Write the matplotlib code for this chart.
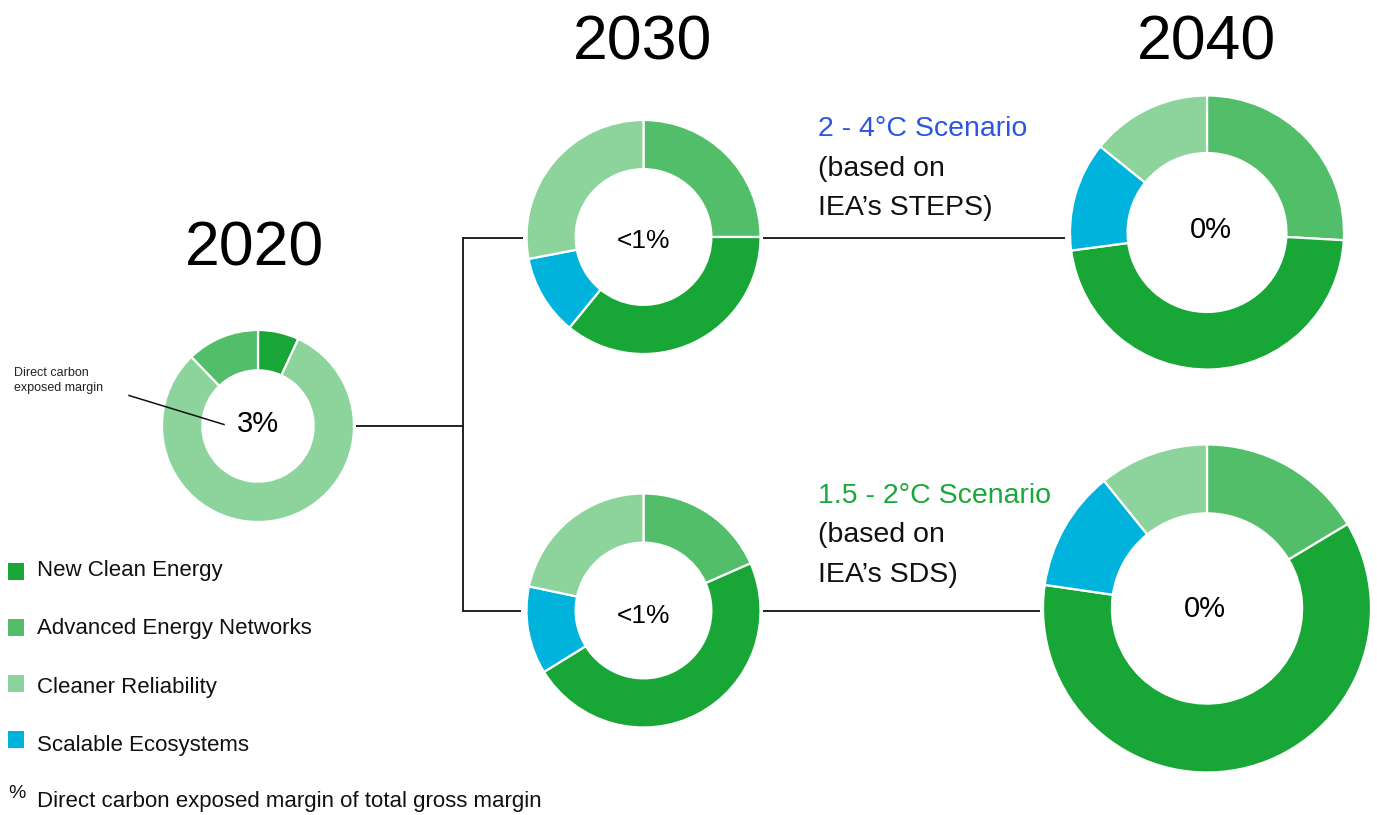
# -*- coding: utf-8 -*-
"""Gross margin mix by portfolio segment, 2020 -> 2030 -> 2040 under two scenarios."""

import matplotlib

matplotlib.use("Agg")
import matplotlib.pyplot as plt
from matplotlib.patches import Rectangle


# ==================== Data ====================
CATEGORIES = [
    "New Clean Energy",
    "Advanced Energy Networks",
    "Cleaner Reliability",
    "Scalable Ecosystems",
]

# shares (%) per donut, in CATEGORIES order
SHARE_2020 = [6.9, 12.2, 80.9, 0.0]
SHARE_2030_STEPS = [35.9, 25.0, 28.0, 11.1]
SHARE_2030_SDS = [47.8, 18.4, 21.7, 12.1]
SHARE_2040_STEPS = [47.0, 25.9, 14.2, 12.9]
SHARE_2040_SDS = [60.9, 16.4, 10.8, 11.9]

# direct carbon exposed margin shown in each hole
CENTER_2020 = "3%"
CENTER_2030 = "<1%"
CENTER_2040 = "0%"

YEARS = ["2020", "2030", "2040"]
SCENARIO_STEPS = ["2 - 4°C Scenario", "(based on", "IEA\u2019s STEPS)"]
SCENARIO_SDS = ["1.5 - 2°C Scenario", "(based on", "IEA\u2019s SDS)"]
FOOTNOTE = "Direct carbon exposed margin of total gross margin"
CALLOUT = ["Direct carbon", "exposed margin"]

# ==================== Style ====================
W, H = 1377, 815
COLORS = ["#18a737", "#52be6a", "#8cd49c", "#00b3dd"]
BLUE_TXT = "#2c55e2"
GREEN_TXT = "#1aa83a"
ORDER_2020 = [0, 2, 1]          # clockwise from 12 o'clock
ORDER_LATER = [1, 0, 3, 2]
HOLE = 0.42                      # ring width as a fraction of radius

plt.rcParams["font.family"] = ["Liberation Sans", "DejaVu Sans"]


def ypx(y):
    # pixel rows measured from the top -> axes coords (y up)
    return H - y


def donut(ax, shares, order, cx, cy, r):
    vals = [shares[i] for i in order]
    cols = [COLORS[i] for i in order]
    ax.pie(
        vals,
        colors=cols,
        startangle=90,
        counterclock=False,
        center=(cx, ypx(cy)),
        radius=r,
        wedgeprops=dict(width=r * HOLE, edgecolor="white", linewidth=1.6),
    )


def hline(ax, x0, x1, y):
    ax.plot([x0, x1], [ypx(y), ypx(y)], color="#111111", lw=1.3, solid_capstyle="butt")


def main():
    fig = plt.figure(figsize=(W / 100, H / 100), dpi=100)
    ax = fig.add_axes([0, 0, 1, 1])

    # donut geometry (pixels)
    d2020 = (258, 426, 96)
    d30a = (643.5, 237, 117)
    d30b = (643.5, 610.5, 117)
    d40a = (1207, 232.5, 137)
    d40b = (1207, 608.5, 164)

    donut(ax, SHARE_2020, ORDER_2020, *d2020)
    donut(ax, SHARE_2030_STEPS, ORDER_LATER, *d30a)
    donut(ax, SHARE_2030_SDS, ORDER_LATER, *d30b)
    donut(ax, SHARE_2040_STEPS, ORDER_LATER, *d40a)
    donut(ax, SHARE_2040_SDS, ORDER_LATER, *d40b)

    # connectors
    bx = 463
    hline(ax, d2020[0] + d2020[2] + 2, bx, d2020[1])
    ax.plot([bx, bx], [ypx(d30a[1] + 1), ypx(d30b[1])], color="#111111", lw=1.3)
    hline(ax, bx, d30a[0] - d30a[2] - 4, d30a[1] + 1)
    hline(ax, bx, d30b[0] - d30b[2] - 6, d30b[1])
    hline(ax, d30a[0] + d30a[2] + 2, d40a[0] - d40a[2] - 5, d30a[1] + 1)
    hline(ax, d30b[0] + d30b[2] + 2, d40b[0] - d40b[2] - 3, d30b[1])

    # years
    ax.text(255, ypx(266), YEARS[0], fontsize=45, ha="center", va="baseline")
    ax.text(643, ypx(60), YEARS[1], fontsize=45, ha="center", va="baseline")
    ax.text(1207, ypx(60), YEARS[2], fontsize=45, ha="center", va="baseline")

    # hole labels
    ax.text(258, ypx(432), CENTER_2020, fontsize=21, ha="center", va="baseline")
    ax.text(643, ypx(248), CENTER_2030, fontsize=19, ha="center", va="baseline")
    ax.text(643, ypx(623), CENTER_2030, fontsize=19, ha="center", va="baseline")
    ax.text(1211, ypx(238), CENTER_2040, fontsize=21, ha="center", va="baseline")
    ax.text(1205, ypx(617), CENTER_2040, fontsize=21, ha="center", va="baseline")

    # scenario captions
    for i, line in enumerate(SCENARIO_STEPS):
        ax.text(818, ypx(136 + 39.5 * i), line, fontsize=20.5, va="baseline",
                color=BLUE_TXT if i == 0 else "#111111")
    for i, line in enumerate(SCENARIO_SDS):
        ax.text(818, ypx(503 + 39.3 * i), line, fontsize=20.5, va="baseline",
                color=GREEN_TXT if i == 0 else "#111111")

    # callout on the 2020 donut
    for i, line in enumerate(CALLOUT):
        ax.text(14, ypx(376 + 15 * i), line, fontsize=9, va="baseline", color="#222222")
    ax.plot([129, 224], [ypx(395.5), ypx(424.5)], color="#111111", lw=1.1)

    # legend
    for i, (name, col) in enumerate(zip(CATEGORIES, COLORS)):
        top = 563 + 56 * i
        ax.add_patch(Rectangle((8, ypx(top + 17)), 16, 17, color=col, lw=0))
        ax.text(37, ypx(576 + 58.4 * i if i else 576), name, fontsize=16,
                va="baseline", color="#111111")
    ax.text(8, ypx(798), "%", fontsize=14, va="baseline", color="#111111")
    ax.text(37, ypx(807), FOOTNOTE, fontsize=16, va="baseline", color="#111111")

    ax.set_xlim(0, W)
    ax.set_ylim(0, H)
    ax.set_aspect("equal")
    ax.axis("off")
    fig.savefig("out.png", dpi=100)
    plt.close(fig)


if __name__ == "__main__":
    main()
